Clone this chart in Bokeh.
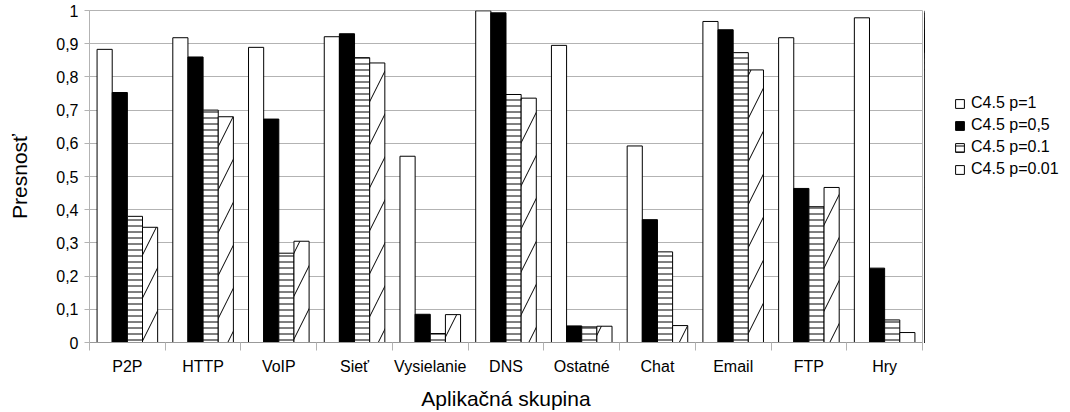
from bokeh.plotting import figure
from bokeh.layouts import row
from bokeh.models import (Range1d, FixedTicker, Legend, LegendItem,
                          ColumnDataSource, CustomJSTickFormatter)
from bokeh.embed import file_html
from bokeh.resources import INLINE

# Accuracy of C4.5 per application group for different sampling rates
categories = ["P2P", "HTTP", "VoIP", "Sieť", "Vysielanie", "DNS",
              "Ostatné", "Chat", "Email", "FTP", "Hry"]
p_1 = [0.883, 0.918, 0.889, 0.921, 0.561, 0.999, 0.895, 0.592, 0.967, 0.918, 0.978]
p_05 = [0.753, 0.860, 0.673, 0.930, 0.085, 0.993, 0.050, 0.370, 0.942, 0.464, 0.224]
p_01 = [0.380, 0.700, 0.269, 0.858, 0.027, 0.747, 0.047, 0.273, 0.873, 0.409, 0.068]
p_001 = [0.347, 0.680, 0.305, 0.842, 0.084, 0.736, 0.049, 0.051, 0.821, 0.467, 0.030]
series_labels = ["C4.5 p=1", "C4.5 p=0,5", "C4.5 p=0.1", "C4.5 p=0.01"]

y_ticks = [0, 0.1, 0.2, 0.3, 0.4, 0.5, 0.6, 0.7, 0.8, 0.9, 1.0]
y_labels = ["0", "0,1", "0,2", "0,3", "0,4", "0,5", "0,6", "0,7", "0,8", "0,9", "1"]

FONT = "Liberation Sans"
GRID = "#b3b3b3"
W, H = 1070, 412
MAIN_W = 924

n = len(categories)
centers = list(range(n))
bounds = [i - 0.5 for i in range(n + 1)]

p = figure(width=MAIN_W, height=H, x_range=Range1d(-0.5, n - 0.5),
           y_range=Range1d(0, 1), output_backend="svg", toolbar_location=None,
           min_border_left=89, min_border_right=2, min_border_top=10,
           min_border_bottom=70)
p.outline_line_color = GRID
p.background_fill_color = "white"
p.border_fill_color = "white"

bar_w = 0.2
offsets = [-0.3, -0.1, 0.1, 0.3]
hline = dict(hatch_pattern="horizontal_line", hatch_scale=6,
             hatch_weight=1, hatch_color="black")
dline = dict(hatch_pattern="right_diagonal_line", hatch_scale=43,
             hatch_weight=1, hatch_color="black")
styles = [
    dict(fill_color="white"),
    dict(fill_color="black"),
    dict(fill_color="white", **hline),
    dict(fill_color="white", **dline),
]
# legend swatches: the sparse diagonal shows as a plain box at swatch size
swatch_styles = [styles[0], styles[1], styles[2], dict(fill_color="white")]

sources = []
for vals, off, st in zip([p_1, p_05, p_01, p_001], offsets, styles):
    src = ColumnDataSource(dict(x=[c + off for c in centers], top=vals))
    sources.append(src)
    p.vbar(x="x", top="top", width=bar_w, bottom=0, source=src,
           line_color="black", line_width=1, **st)

# x axis: labels at group centres, small ticks at the group boundaries
p.xaxis.ticker = FixedTicker(ticks=centers, minor_ticks=bounds)
p.xaxis.major_label_overrides = {c: name for c, name in zip(centers, categories)}
p.xaxis.major_tick_out = 0
p.xaxis.major_tick_in = 0
p.xaxis.minor_tick_out = 8
p.xaxis.minor_tick_in = 0
p.xaxis.minor_tick_line_color = GRID
p.xaxis.axis_line_color = "#999999"
p.xaxis.major_label_standoff = 7
p.xaxis.major_label_text_font = FONT
p.xaxis.major_label_text_font_size = "16px"
p.xaxis.major_label_text_color = "black"
p.xaxis.axis_label = "Aplikačná skupina"
p.xaxis.axis_label_text_font = FONT
p.xaxis.axis_label_text_font_size = "21px"
p.xaxis.axis_label_text_font_style = "normal"
p.xaxis.axis_label_text_color = "black"
p.xaxis.axis_label_standoff = 9

p.yaxis.ticker = FixedTicker(ticks=y_ticks, minor_ticks=[])
p.yaxis.formatter = CustomJSTickFormatter(args=dict(labels=y_labels),
                                          code="return labels[Math.round(tick * 10)];")
p.yaxis.major_tick_out = 5
p.yaxis.major_tick_in = 0
p.yaxis.major_tick_line_color = GRID
p.yaxis.axis_line_color = GRID
p.yaxis.major_label_standoff = 6
p.yaxis.major_label_text_font = FONT
p.yaxis.major_label_text_font_size = "16px"
p.yaxis.major_label_text_color = "black"
p.yaxis.axis_label = "Presnosť"
p.yaxis.axis_label_text_font = FONT
p.yaxis.axis_label_text_font_size = "21px"
p.yaxis.axis_label_text_font_style = "normal"
p.yaxis.axis_label_text_color = "black"
p.yaxis.axis_label_standoff = 22

p.xgrid.visible = False
p.ygrid.ticker = FixedTicker(ticks=y_ticks)
p.ygrid.grid_line_color = GRID
p.ygrid.grid_line_width = 1

# legend panel: a side plot whose view lies past the last group, so the
# series renderers it holds only supply the legend swatches
lg = figure(width=W - MAIN_W, height=H, x_range=Range1d(n, n + 1),
            y_range=Range1d(0, 1), output_backend="svg", toolbar_location=None,
            min_border_left=0, min_border_right=0, min_border_top=0,
            min_border_bottom=0)
lg.axis.visible = False
lg.grid.visible = False
lg.outline_line_color = None
lg.border_fill_color = "white"
swatches = []
for src, st in zip(sources, swatch_styles):
    swatches.append(lg.vbar(x="x", top="top", width=bar_w, bottom=0, source=src,
                            line_color="black", line_width=1, **st))

legend = Legend(items=[LegendItem(label=lab, renderers=[r])
                       for lab, r in zip(series_labels, swatches)],
                location=(30, 162), orientation="vertical",
                glyph_width=11, glyph_height=11, label_height=22, spacing=0,
                padding=0, margin=0, label_standoff=6,
                label_text_font=FONT, label_text_font_size="16px",
                label_text_color="black",
                border_line_alpha=0, background_fill_alpha=0)
lg.add_layout(legend)

layout = row(p, lg)
open("out.html", "w").write(file_html(layout, INLINE))
